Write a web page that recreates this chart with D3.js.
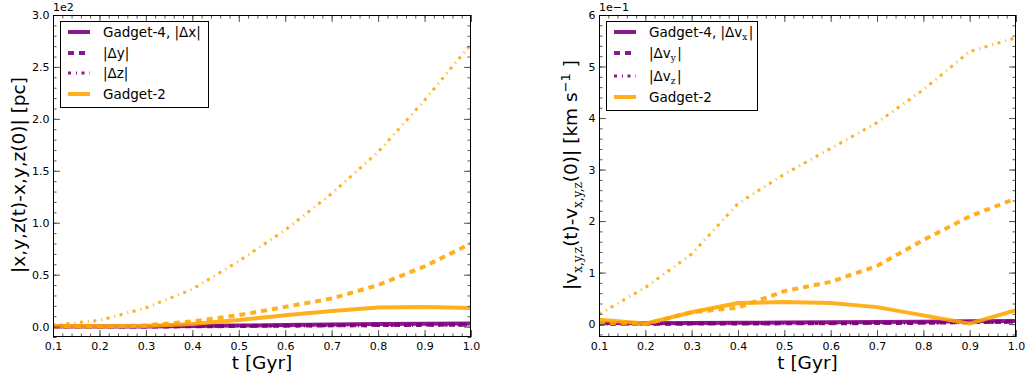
<!DOCTYPE html>
<html>
<head>
<meta charset="utf-8">
<script src="https://cdn.jsdelivr.net/npm/d3@7"></script>
<style>
  body { margin: 0; background: #fff; }
  text { font-family: "DejaVu Sans", sans-serif; fill: #000; }
  .serif { font-family: "DejaVu Serif", serif; }
</style>
</head>
<body>
<svg id="fig" width="1026" height="380"></svg>
<script>
// Sampling times [Gyr]
const times = [0.1, 0.2, 0.3, 0.4, 0.5, 0.6, 0.7, 0.8, 0.9, 1.0];

// Position drift |x(t)-x(0)| etc., in units of 1e2 pc
const g4PosX = [0.000, 0.000, 0.002, 0.006, 0.010, 0.015, 0.020, 0.024, 0.027, 0.030];
const g4PosY = [0.000, 0.000, 0.001, 0.003, 0.006, 0.009, 0.012, 0.015, 0.017, 0.019];
const g4PosZ = [0.000, 0.000, 0.001, 0.002, 0.004, 0.006, 0.008, 0.010, 0.012, 0.014];
const g2PosX = [0.005, 0.004, 0.006, 0.026, 0.064, 0.110, 0.150, 0.183, 0.190, 0.178];
const g2PosY = [0.000, 0.000, 0.012, 0.050, 0.110, 0.190, 0.270, 0.400, 0.580, 0.800];
const g2PosZ = [0.015, 0.060, 0.180, 0.360, 0.630, 0.930, 1.280, 1.680, 2.180, 2.720];

// Velocity drift |v(t)-v(0)|, in units of 1e-1 km/s
const g4VelX = [0.020, 0.015, 0.020, 0.025, 0.030, 0.035, 0.040, 0.045, 0.055, 0.060];
const g4VelY = [0.005, 0.005, 0.010, 0.012, 0.015, 0.018, 0.020, 0.025, 0.040, 0.045];
const g4VelZ = [0.000, 0.002, 0.005, 0.008, 0.010, 0.012, 0.015, 0.020, 0.030, 0.035];
const g2VelX = [0.085, 0.010, 0.230, 0.410, 0.430, 0.410, 0.330, 0.170, 0.010, 0.270];
const g2VelY = [0.030, 0.000, 0.230, 0.320, 0.640, 0.820, 1.130, 1.630, 2.090, 2.440];
const g2VelZ = [0.190, 0.710, 1.360, 2.340, 2.910, 3.410, 3.910, 4.550, 5.290, 5.560];

// Axis ticks
const xMajor = [0.1, 0.2, 0.3, 0.4, 0.5, 0.6, 0.7, 0.8, 0.9, 1.0];
const posMajor = [0.0, 0.5, 1.0, 1.5, 2.0, 2.5, 3.0];
const velMajor = [0, 1, 2, 3, 4, 5, 6];

const PURPLE = "#800080", ORANGE = "#FFA500";
const styles = {
  solid:   { dash: null,          width: 4 },
  dashed:  { dash: "6,5",         width: 4 },
  dashdot: { dash: "3,5,1,4.5",   width: 3 }
};

const svg = d3.select("#fig");

function panel(cfg) {
  const x = d3.scaleLinear().domain([0.1, 1.0]).range([cfg.left, cfg.right]);
  const y = d3.scaleLinear().domain(cfg.yDomain).range([337, 15]);
  const g = svg.append("g");

  const series = [
    { v: cfg.g4[0], c: PURPLE, s: "solid",   o: 0.9 },
    { v: cfg.g4[1], c: PURPLE, s: "dashed",  o: 0.9 },
    { v: cfg.g4[2], c: PURPLE, s: "dashdot", o: 0.9 },
    { v: cfg.g2[0], c: ORANGE, s: "solid",   o: 0.88 },
    { v: cfg.g2[1], c: ORANGE, s: "dashed",  o: 0.88 },
    { v: cfg.g2[2], c: ORANGE, s: "dashdot", o: 0.88 }
  ];
  const line = d3.line().x((d, i) => x(times[i])).y(d => y(d));
  const clipId = "clip" + cfg.left;
  g.append("clipPath").attr("id", clipId).append("rect")
    .attr("x", cfg.left).attr("y", 15).attr("width", cfg.right - cfg.left).attr("height", 322);
  const lg = g.append("g").attr("clip-path", `url(#${clipId})`);
  series.forEach(sr => {
    lg.append("path").datum(sr.v).attr("d", line)
      .attr("fill", "none").attr("stroke", sr.c).attr("stroke-opacity", sr.o)
      .attr("stroke-width", styles[sr.s].width)
      .attr("stroke-dasharray", styles[sr.s].dash)
      .attr("stroke-linejoin", "round");
  });

  // ticks on all four sides, pointing inward
  const xMinor = d3.range(0.1, 1.0001, 0.02).map(v => +v.toFixed(2));
  const yMinor = d3.range(0, cfg.yDomain[1] + 1e-9, cfg.yMinorStep)
    .concat(d3.range(-cfg.yMinorStep, cfg.yDomain[0] - 1e-9, -cfg.yMinorStep))
    .map(v => +v.toFixed(3));
  const tickStyle = sel => {
    sel.select(".domain").remove();
    sel.selectAll(".tick line").attr("stroke", "#555").attr("stroke-width", 1);
    sel.selectAll("text").style("font-size", "11px").attr("fill", "#000");
  };
  g.append("g").attr("transform", "translate(0,337)")
    .call(d3.axisBottom(x).tickValues(xMajor).tickSizeInner(-7).tickSizeOuter(0)
      .tickPadding(5).tickFormat(d3.format(".1f"))).call(tickStyle);
  g.append("g").attr("transform", "translate(0,337)")
    .call(d3.axisBottom(x).tickValues(xMinor).tickSize(-3.5).tickFormat("")).call(tickStyle);
  g.append("g").attr("transform", "translate(0,15)")
    .call(d3.axisTop(x).tickValues(xMajor).tickSize(-7).tickFormat("")).call(tickStyle);
  g.append("g").attr("transform", "translate(0,15)")
    .call(d3.axisTop(x).tickValues(xMinor).tickSize(-3.5).tickFormat("")).call(tickStyle);
  g.append("g").attr("transform", `translate(${cfg.left},0)`)
    .call(d3.axisLeft(y).tickValues(cfg.yMajor).tickSizeInner(-7).tickSizeOuter(0)
      .tickPadding(3.5).tickFormat(cfg.yFormat)).call(tickStyle);
  g.append("g").attr("transform", `translate(${cfg.left},0)`)
    .call(d3.axisLeft(y).tickValues(yMinor).tickSize(-3.5).tickFormat("")).call(tickStyle);
  g.append("g").attr("transform", `translate(${cfg.right},0)`)
    .call(d3.axisRight(y).tickValues(cfg.yMajor).tickSize(-7).tickFormat("")).call(tickStyle);
  g.append("g").attr("transform", `translate(${cfg.right},0)`)
    .call(d3.axisRight(y).tickValues(yMinor).tickSize(-3.5).tickFormat("")).call(tickStyle);

  // frame
  g.append("rect").attr("x", cfg.left + 0.5).attr("y", 15.5)
    .attr("width", cfg.right - cfg.left - 1).attr("height", 321)
    .attr("fill", "none").attr("stroke", "#000").attr("stroke-width", 1);

  // offset text
  g.append("text").attr("x", cfg.left).attr("y", 11).style("font-size", "11px").text(cfg.offset);

  // x label
  g.append("text").attr("x", (cfg.left + cfg.right) / 2).attr("y", 369)
    .attr("text-anchor", "middle").style("font-size", "18.5px").text("t [Gyr]");

  // y label
  const yl = g.append("text")
    .attr("transform", `translate(${cfg.ylabelX},175) rotate(-90)`)
    .attr("text-anchor", "middle").style("font-size", "18.5px");
  cfg.ylabel(yl);

  // legend
  const L = cfg.legend;
  g.append("rect").attr("x", L.x + 0.5).attr("y", 21.5).attr("width", L.w).attr("height", L.h)
    .attr("fill", "#fff").attr("stroke", "#000").attr("stroke-width", 1);
  const entries = [
    { c: PURPLE, s: "solid", o: 0.9 }, { c: PURPLE, s: "dashed", o: 0.9 },
    { c: PURPLE, s: "dashdot", o: 0.9 }, { c: ORANGE, s: "solid", o: 0.88 }
  ];
  entries.forEach((e, i) => {
    const ry = L.rows[i];
    g.append("line").attr("x1", L.x + 8).attr("x2", L.x + 30).attr("y1", ry).attr("y2", ry)
      .attr("stroke", e.c).attr("stroke-opacity", e.o)
      .attr("stroke-width", styles[e.s].width).attr("stroke-dasharray", styles[e.s].dash);
    const t = g.append("text").attr("x", L.x + L.tx).attr("y", ry + 5).style("font-size", "13.5px");
    L.labels[i](t);
  });
}

function sub(t, s, size) {
  t.append("tspan").attr("class", "serif").attr("dy", 3).style("font-size", size).text(s);
  t.append("tspan").attr("dy", -3).text("\u200A");
}

panel({
  left: 53, right: 471, yDomain: [-0.1, 3.0], yMajor: posMajor, yMinorStep: 0.1,
  yFormat: d3.format(".1f"), offset: "1e2",
  g4: [g4PosX, g4PosY, g4PosZ], g2: [g2PosX, g2PosY, g2PosZ],
  ylabelX: 25,
  ylabel: t => t.text("|x,y,z(t)-x,y,z(0)| [pc]"),
  legend: {
    x: 60, w: 148, h: 86, tx: 43, rows: [32, 53, 73, 94],
    labels: [
      t => t.text("Gadget-4, |\u0394x|"),
      t => t.text("|\u0394y|"),
      t => t.text("|\u0394z|"),
      t => t.text("Gadget-2")
    ]
  }
});

panel({
  left: 599, right: 1016, yDomain: [-0.25, 6], yMajor: velMajor, yMinorStep: 0.2,
  yFormat: d3.format("d"), offset: "1e\u22121",
  g4: [g4VelX, g4VelY, g4VelZ], g2: [g2VelX, g2VelY, g2VelZ],
  ylabelX: 577,
  ylabel: t => {
    t.append("tspan").text("|v");
    t.append("tspan").attr("class", "serif").attr("dy", 5).style("font-size", "12px").text("x,y,z");
    t.append("tspan").attr("dy", -5).text("(t)-v");
    t.append("tspan").attr("class", "serif").attr("dy", 5).style("font-size", "12px").text("x,y,z");
    t.append("tspan").attr("dy", -5).text("(0)| [km s");
    t.append("tspan").attr("dy", -7).style("font-size", "13px").text("\u22121");
    t.append("tspan").attr("dy", 7).text(" ]");
  },
  legend: {
    x: 606, w: 151, h: 89, tx: 43, rows: [32, 53, 76, 97],
    labels: [
      t => { t.append("tspan").text("Gadget-4, |\u0394v"); sub(t, "x", "9px"); t.append("tspan").text("|"); },
      t => { t.append("tspan").text("|\u0394v"); sub(t, "y", "9px"); t.append("tspan").text("|"); },
      t => { t.append("tspan").text("|\u0394v"); sub(t, "z", "9px"); t.append("tspan").text("|"); },
      t => t.text("Gadget-2")
    ]
  }
});
</script>
</body>
</html>
